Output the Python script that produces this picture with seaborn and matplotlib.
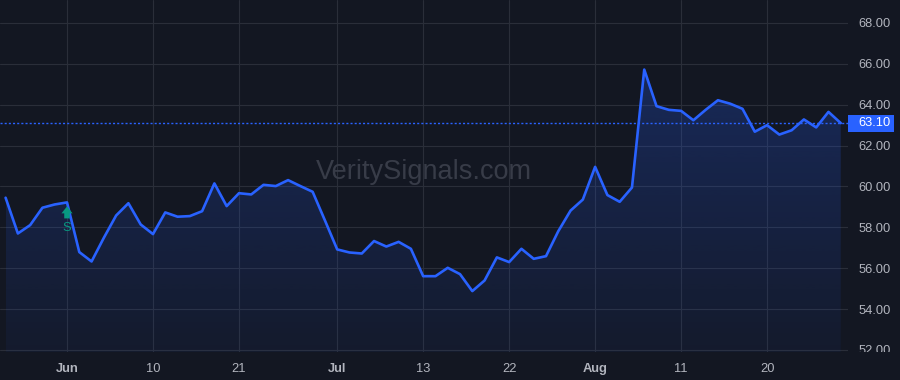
import numpy as np
import pandas as pd
import matplotlib
matplotlib.use("Agg")
import matplotlib.pyplot as plt
import seaborn as sns
from matplotlib.patches import Polygon, Rectangle
from matplotlib.transforms import offset_copy, blended_transform_factory, Bbox

# ---------------- data ----------------
dates = pd.bdate_range("2021-05-24", "2021-08-30", freq="C",
                       holidays=["2021-05-31", "2021-07-05"])
prices = [
    59.45, 57.70, 58.11, 58.96, 59.12, 59.22, 56.79, 56.33, 57.49, 58.58,
    59.18, 58.14, 57.67, 58.73, 58.52, 58.55, 58.79, 60.15, 59.04, 59.67,
    59.61, 60.08, 60.02, 60.31, 60.02, 59.74, 58.34, 56.92, 56.77, 56.72,
    57.33, 57.06, 57.29, 56.95, 55.61, 55.61, 56.02, 55.71, 54.88, 55.40,
    56.53, 56.30, 56.95, 56.46, 56.59, 57.81, 58.82, 59.36, 60.96, 59.58,
    59.25, 59.95, 65.72, 63.93, 63.75, 63.70, 63.24, 63.75, 64.22, 64.05,
    63.80, 62.68, 63.00, 62.54, 62.75, 63.28, 62.89, 63.65, 63.10,
]
tick_dates = ["2021-06-01", "2021-06-10", "2021-06-21", "2021-07-01",
              "2021-07-13", "2021-07-22", "2021-08-02", "2021-08-11",
              "2021-08-20"]
tick_labels = ["Jun", "10", "21", "Jul", "13", "22", "Aug", "11", "20"]
y_ticks = [52, 54, 56, 58, 60, 62, 64, 66, 68]
signal_date = "2021-06-01"
signal_label = "S"
last_price = 63.10
watermark = "VeritySignals.com"

df = pd.DataFrame({"idx": np.arange(len(prices)), "date": dates[:len(prices)],
                   "price": prices})
date_to_idx = {d.strftime("%Y-%m-%d"): i for i, d in enumerate(df["date"])}

# ---------------- style ----------------
BG = "#131722"
GRID = "#2a2e39"
TXT = "#b2b5be"
BLUE = "#2962ff"
GREEN = "#089981"

sns.set_theme(style="dark")
plt.rcParams["font.family"] = ["Liberation Sans", "DejaVu Sans"]

fig = plt.figure(figsize=(9, 3.8), dpi=100, facecolor=BG)
ax = fig.add_axes([0, 28 / 380, 848 / 900, 352 / 380])
ax.set_facecolor(BG)

xlim = (-0.456, 68.59)
ylim = (51.90, 69.125)
ax.set_xlim(*xlim)
ax.set_ylim(*ylim)

# gradient fill under the line
x = df["idx"].to_numpy()
y = df["price"].to_numpy()
ytop = y.max()
grad = np.linspace(0.05, 0.25, 256).reshape(-1, 1)
rgba = np.zeros((256, 1, 4))
rgba[..., 0] = 41 / 255
rgba[..., 1] = 98 / 255
rgba[..., 2] = 255 / 255
rgba[..., 3] = grad
im = ax.imshow(rgba, extent=[x[0], x[-1], ylim[0], ytop], origin="lower",
               aspect="auto", zorder=1, interpolation="bilinear")
verts = np.vstack([[x[0], ylim[0]], np.column_stack([x, y]), [x[-1], ylim[0]]])
poly = Polygon(verts, closed=True, transform=ax.transData, facecolor="none",
               edgecolor="none")
ax.add_patch(poly)
im.set_clip_path(poly)

# line
sns.lineplot(data=df, x="idx", y="price", ax=ax, color=BLUE, linewidth=1.9,
             zorder=3)

# grid
ax.set_xticks([date_to_idx[d] for d in tick_dates])
ax.set_xticklabels(tick_labels)
ax.set_yticks(y_ticks)
ax.set_yticklabels([f"{v:.2f}" for v in y_ticks])
ax.grid(True, color=GRID, linewidth=0.8)
ax.set_axisbelow(True)
for s in ax.spines.values():
    s.set_visible(False)
ax.yaxis.tick_right()
ax.tick_params(axis="y", length=0, pad=7.5, labelsize=9.3, labelcolor=TXT)
ax.tick_params(axis="x", length=0, pad=8, labelsize=9.3, labelcolor=TXT)
for lbl in ax.get_xticklabels():
    if not lbl.get_text().isdigit():
        lbl.set_fontweight("bold")
ax.set_xlabel("")
ax.set_ylabel("")

# clip the lowest price label at the pane bottom, as in the reference
clip_box = Bbox.from_extents(840, 28, 900, 380)
for lbl in ax.get_yticklabels():
    lbl.set_clip_on(True)
    lbl.set_clip_box(clip_box)

# watermark
ax.text(0.5, 0.51, watermark, transform=ax.transAxes, ha="center",
        va="center", fontsize=19.5, color="#383c48", zorder=2)

# last price dotted line and label
ax.axhline(last_price, color=BLUE, linewidth=1, linestyle=(0, (1.5, 1.5)),
           zorder=2)
bt = blended_transform_factory(ax.transAxes, ax.transData)
h = 17 / 20.44
ax.add_patch(Rectangle((1.0, last_price - h / 2), 46 / 848, h, transform=bt,
                       facecolor=BLUE, edgecolor="none", clip_on=False,
                       zorder=5))
ax.text(1.0 + 10 / 848, last_price, f"{last_price:.2f}", transform=bt,
        ha="left", va="center", fontsize=9.3, color="white", zorder=6,
        clip_on=False)

# signal marker
si = date_to_idx[signal_date]
sv = df["price"][si]
tip_tr = offset_copy(ax.transData, fig=fig, x=0, y=-4, units="dots")
tail_tr = offset_copy(ax.transData, fig=fig, x=0, y=-16, units="dots")
ax.annotate("", xy=(si, sv), xycoords=tip_tr, xytext=(si, sv),
            textcoords=tail_tr,
            arrowprops=dict(arrowstyle="simple,head_length=0.5,head_width=0.8,tail_width=0.4",
                            color=GREEN, shrinkA=0, shrinkB=0, lw=0,
                            mutation_scale=10), zorder=4)
s_tr = offset_copy(ax.transData, fig=fig, x=0, y=-26, units="dots")
ax.text(si, sv, signal_label, transform=s_tr, ha="center", va="center",
        fontsize=9.3, color=GREEN, zorder=4)

fig.savefig("out.png", dpi=100, facecolor=BG)
